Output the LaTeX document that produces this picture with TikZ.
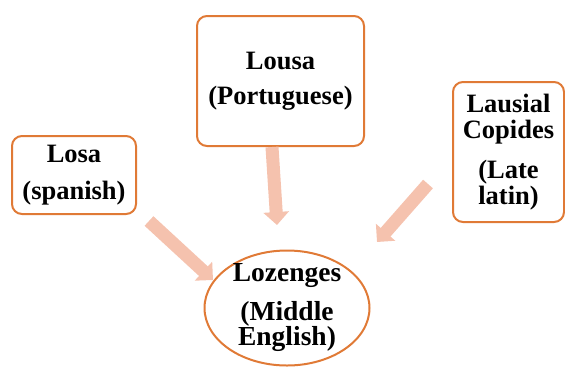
\documentclass[tikz,border=0pt]{standalone}
\usepackage{fontspec}
\setmainfont{Liberation Serif}
\usetikzlibrary{arrows.meta,shapes.geometric}
\definecolor{boxorange}{HTML}{E07A36}
\definecolor{arrowpink}{HTML}{F5C2AE}
\begin{document}
\begin{tikzpicture}[x=1pt,y=-1pt,
	wordbox/.style={draw=boxorange,line width=2pt,rounded corners=10pt,inner sep=0pt,align=center,font=\bfseries\fontsize{26.5}{25.5}\selectfont},
	wordoval/.style={ellipse,draw=boxorange,line width=2pt,inner sep=-8pt,align=center,font=\bfseries\fontsize{27.5}{25.5}\selectfont},
	pinkarrow/.style={draw=arrowpink,line width=13pt,-{Triangle[width=25pt,length=13pt]}}]
	\useasboundingbox (0,0) rectangle (565,368);
	% source words
	\node[wordbox,minimum width=124pt,minimum height=78pt] (losa) at (74,175) {Losa\\[12pt](spanish)};
	\node[wordbox,minimum width=167pt,minimum height=130pt] (lousa) at (280.5,81) {Lousa\\[10pt](Portuguese)};
	\node[wordbox,minimum width=111pt,minimum height=140pt] (lausial) at (508.5,152) {Lausial\\Copides\\[15pt](Late\\latin)};
	% target word
	\node[wordoval,minimum width=165pt,minimum height=115pt] (lozenges) at (287,308) {Lozenges\\[13pt](Middle\\English)};
	% arrow ends
	\coordinate (losaout) at (149,221);
	\coordinate (losain) at (213,280);
	\coordinate (lousaout) at (272,147);
	\coordinate (lousain) at (277,225);
	\coordinate (lausialout) at (428,184);
	\coordinate (lausialin) at (377,242);
	\draw[pinkarrow] (losaout) -- (losain);
	\draw[pinkarrow] (lousaout) -- (lousain);
	\draw[pinkarrow] (lausialout) -- (lausialin);
\end{tikzpicture}
\end{document}
